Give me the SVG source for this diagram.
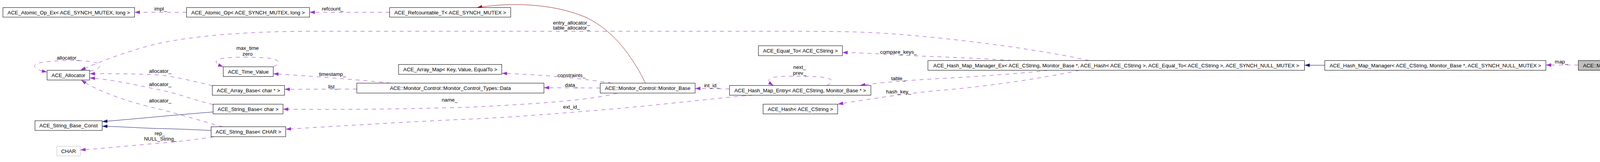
<svg xmlns="http://www.w3.org/2000/svg" width="4344" height="416" viewBox="0 0 4344 416">
<style>
text{font-family:"Liberation Sans",Arial,sans-serif;font-size:13.3px;fill:#000;text-anchor:middle}
.box{fill:#fff;stroke:#000;stroke-width:1}
.use{fill:none;stroke:#9a32cd;stroke-width:1;stroke-dasharray:10,10;marker-end:url(#ap)}
.inh{fill:none;stroke:#191970;stroke-width:1;marker-end:url(#ab)}
.prv{fill:none;stroke:#8b1a1a;stroke-width:1;marker-end:url(#ar)}
</style>
<defs>
<marker id="ap" markerUnits="userSpaceOnUse" markerWidth="14" markerHeight="10" refX="13.5" refY="4.5" orient="auto" viewBox="0 0 14 9"><path d="M0,0L13.5,4.5L0,9z" fill="#9a32cd"/></marker>
<marker id="ab" markerUnits="userSpaceOnUse" markerWidth="14" markerHeight="10" refX="13.5" refY="4.5" orient="auto" viewBox="0 0 14 9"><path d="M0,0L13.5,4.5L0,9z" fill="#191970"/></marker>
<marker id="ar" markerUnits="userSpaceOnUse" markerWidth="14" markerHeight="10" refX="13.5" refY="4.5" orient="auto" viewBox="0 0 14 9"><path d="M0,0L13.5,4.5L0,9z" fill="#8b1a1a"/></marker>
</defs>
<rect width="4344" height="416" fill="#fff"/>
<g id="edges">
<g><path class="use" d="M477.5,31.5L344.5,31.5"/><text x="411" y="27">impl_</text></g>
<g><path class="use" d="M997.5,31.5L792.5,31.5"/><text x="851.5" y="27.3">refcount_</text></g>
<g><path class="prv" d="M1652,213.5C1640,186 1620,155 1600,128C1570,90 1540,65 1505,47C1450,22 1380,10 1300,12C1270,13 1245,16 1221,19.5"/></g>
<g><path class="use" d="M2788,155.5C2650,125 2450,100 2300,88C2200,80 2100,80.3 2000,80.3L800,80.3C650,80.3 500,90 400,113C330,130 250,160 206,180.5"/><text x="1463" y="62.5">entry_allocator_</text><text x="1463" y="76">table_allocator_</text></g>
<g><path class="use" d="M2590,155.5C2500,148 2350,145 2280,140C2230,137 2190,135 2156.5,135"/><text x="2300" y="138">compare_keys_</text></g>
<g><path class="use" d="M2683,180.5C2600,190 2480,198 2400,202C2330,206 2250,212 2201.7,219.5"/><text x="2299.5" y="206">table_</text></g>
<g><path class="use" d="M2763,180.5C2650,205 2500,225 2400,232.5C2320,240 2220,255 2145,267.5"/><text x="2300.5" y="240">hash_key_</text></g>
<g><path class="use" d="M2116.7,219.5C2140,208 2130,199 2090,197C2050,195 2000,195 1985,198C1965,201 1962,208 1980,219.5"/><text x="2047" y="176.7">next_</text><text x="2047" y="191.7">prev_</text></g>
<g><path class="use" d="M1867.5,228.5L1779.5,227"/><text x="1822" y="224">int_id_</text></g>
<g><path class="use" d="M1928,244.5C1850,250 1740,264 1600,277C1450,290 1300,302 1200,306C1050,312 850,325 731.5,331.7"/><text x="1463" y="279.3">ext_id_</text></g>
<g><path class="use" d="M1580,239.5C1520,255 1400,266 1200,275.3C1000,281 850,281.7 724.5,280.3"/><text x="1151" y="260.7">name_</text></g>
<g><path class="use" d="M1566.7,213.5C1500,203 1400,192 1284.7,188.3"/><text x="1463" y="198">constraints_</text></g>
<g><path class="use" d="M1536.5,226L1392.5,225.3"/><text x="1463" y="222.7">data_</text></g>
<g><path class="use" d="M913.5,228.7L728.5,229.3"/><text x="852" y="227.3">list_</text></g>
<g><path class="use" d="M1000,213.5C920,205 820,197 699.5,189.3"/><text x="851" y="195">timestamp_</text></g>
<g><path class="use" d="M700,171C722,162 718,150 670,148C630,146 580,146 560,152C548,157 552,164 571.5,171.5"/><text x="633.7" y="128.3">max_time</text><text x="633.7" y="143.3">zero</text></g>
<g><path class="use" d="M543.5,220C500,210 450,196 400,192C330,189 280,189 229.7,189.3"/><text x="410" y="187.3">allocator_</text></g>
<g><path class="use" d="M545.5,268.5C500,258 450,238 400,229C330,214 280,204 229.7,200"/><text x="410" y="220.7">allocator_</text></g>
<g><path class="use" d="M570,325.5C530,315 450,290 400,278.3C330,262 250,235 208,205.5"/><text x="410" y="263.3">allocator_</text></g>
<g><path class="use" d="M230,182.7C265,175 262,162 233,158C190,153 130,155 100,161.7C80,167 85,178 120.5,185"/><text x="174" y="152.7">allocator_</text></g>
<g><path class="inh" d="M545.5,287.5C450,295 350,305 261.5,312.3"/></g>
<g><path class="inh" d="M540.5,335C480,332 420,330 400,330C350,328 300,325 261.5,324"/></g>
<g><path class="use" d="M546.7,351.5C500,358 450,365 400,368.3C330,374 270,381 205.5,385"/><text x="409" y="346.7">rep_</text><text x="410.5" y="361">NULL_String_</text></g>
<g><path class="inh" d="M3391.5,167.5L3339.5,167.5"/></g>
<g><path class="use" d="M4040.5,167L3957.5,167"/><text x="3997" y="163.3">map_</text></g>
</g>
<g id="n1"><rect class="box" x="7.5" y="19.5" width="337" height="24.5"/><text x="176" y="36.5">ACE_Atomic_Op_Ex&lt; ACE_SYNCH_MUTEX, long &gt;</text></g>
<g id="n2"><rect class="box" x="477.5" y="19.5" width="315" height="24.5"/><text x="635" y="36.5">ACE_Atomic_Op&lt; ACE_SYNCH_MUTEX, long &gt;</text></g>
<g id="n3"><rect class="box" x="997.5" y="19.5" width="310" height="24.5"/><text x="1152.5" y="36.5">ACE_Refcountable_T&lt; ACE_SYNCH_MUTEX &gt;</text></g>
<g id="n4"><rect class="box" x="120.5" y="180.5" width="109" height="25"/><text x="175" y="197.7">ACE_Allocator</text></g>
<g id="n5"><rect class="box" x="89.5" y="310" width="172" height="25"/><text x="175.5" y="327.2">ACE_String_Base_Const</text></g>
<g id="n6"><rect x="145.5" y="375.5" width="60" height="25" fill="#fff" stroke="#bfbfbf"/><text x="175.5" y="392.7">CHAR</text></g>
<g id="n7"><rect class="box" x="571.5" y="171.5" width="128" height="25"/><text x="635.5" y="188.7">ACE_Time_Value</text></g>
<g id="n8"><rect class="box" x="543.5" y="219.5" width="185" height="25"/><text x="636" y="236.7">ACE_Array_Base&lt; char * &gt;</text></g>
<g id="n9"><rect class="box" x="545.5" y="267.5" width="179" height="25"/><text x="635" y="284.7">ACE_String_Base&lt; char &gt;</text></g>
<g id="n10"><rect class="box" x="540.5" y="325.5" width="191" height="25.5"/><text x="636" y="342.9">ACE_String_Base&lt; CHAR &gt;</text></g>
<g id="n11"><rect class="box" x="1020.5" y="165.5" width="264" height="25.5"/><text x="1152.5" y="182.9">ACE_Array_Map&lt; Key, Value, EqualTo &gt;</text></g>
<g id="n12"><rect class="box" x="913.5" y="213.5" width="479" height="25.5"/><text x="1153" y="230.9">ACE::Monitor_Control::Monitor_Control_Types::Data</text></g>
<g id="n13"><rect class="box" x="1536.5" y="213.5" width="243" height="25.5"/><text x="1658" y="230.9">ACE::Monitor_Control::Monitor_Base</text></g>
<g id="n14"><rect class="box" x="1867.5" y="219.5" width="362" height="25"/><text x="2048.5" y="236.7">ACE_Hash_Map_Entry&lt; ACE_CString, Monitor_Base * &gt;</text></g>
<g id="n15"><rect class="box" x="1941.5" y="117.5" width="215" height="25.5"/><text x="2049" y="134.9">ACE_Equal_To&lt; ACE_CString &gt;</text></g>
<g id="n16"><rect class="box" x="1953.5" y="267.5" width="191" height="25"/><text x="2049" y="284.7">ACE_Hash&lt; ACE_CString &gt;</text></g>
<g id="n17"><rect class="box" x="2375.5" y="155.5" width="964" height="25"/><text x="2857.5" y="172.7">ACE_Hash_Map_Manager_Ex&lt; ACE_CString, Monitor_Base *, ACE_Hash&lt; ACE_CString &gt;, ACE_Equal_To&lt; ACE_CString &gt;, ACE_SYNCH_NULL_MUTEX &gt;</text></g>
<g id="n18"><rect class="box" x="3391.5" y="155.5" width="566" height="25"/><text x="3674.5" y="172.7">ACE_Hash_Map_Manager&lt; ACE_CString, Monitor_Base *, ACE_SYNCH_NULL_MUTEX &gt;</text></g>
<g id="n19"><rect x="4040.5" y="155.5" width="299" height="25" fill="#bfbfbf" stroke="#000"/><text x="4190" y="172.7">ACE::Monitor_Control::Monitor_Point_Registry</text></g>
</svg>
